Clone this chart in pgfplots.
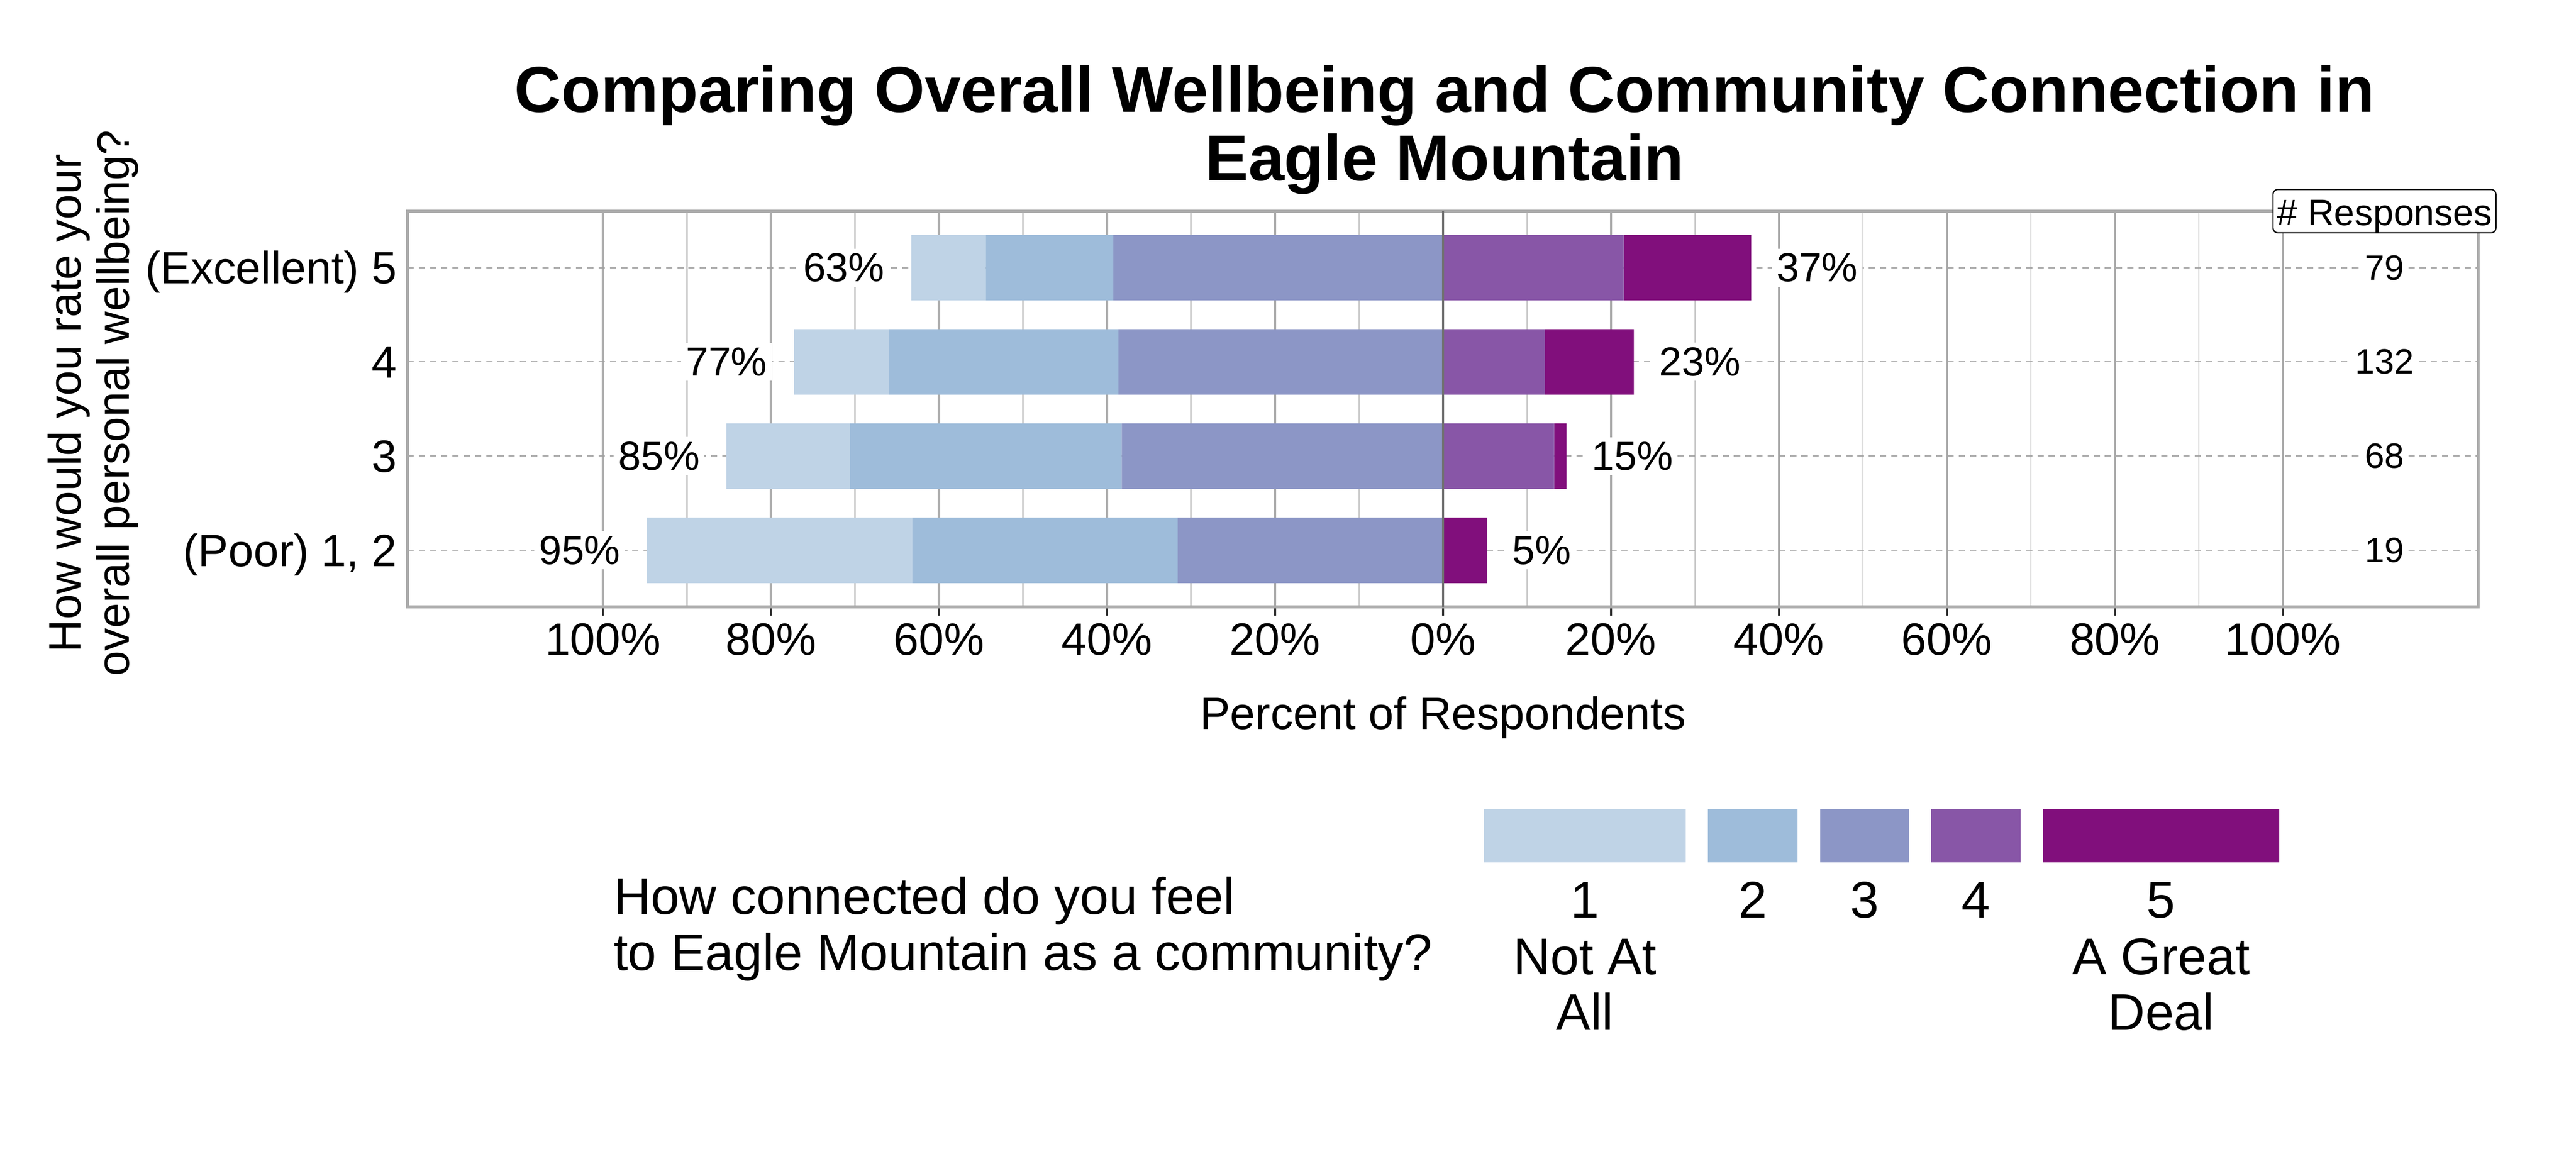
\documentclass[border=0pt]{standalone}
\usepackage{fontspec}
\setmainfont{Liberation Sans}
\usepackage{pgfplots}
\pgfplotsset{compat=1.18}
\usepackage{pgfplotstable}

\definecolor{c1}{HTML}{BFD3E6}
\definecolor{c2}{HTML}{9EBCDA}
\definecolor{c3}{HTML}{8C96C6}
\definecolor{c4}{HTML}{8856A7}
\definecolor{c5}{HTML}{810F7C}
\definecolor{framegray}{HTML}{ABABAB}
\definecolor{minorgray}{HTML}{C4C4C4}
\definecolor{dashgray}{HTML}{A0A0A0}
\definecolor{zerogray}{HTML}{707070}

% percent of respondents per connection level (1..5), rows bottom to top
\pgfplotstableread{
y  c1     c2     c3     c4     c5
0  31.58  31.58  31.58  0.00   5.26
1  14.71  32.35  38.24  13.24  1.47
2  11.36  27.27  38.64  12.12  10.61
3  8.86   15.19  39.24  21.52  15.19
}\wellbeing

\newcommand{\axfont}{\fontsize{29}{31}\selectfont}
\newcommand{\lgfont}{\fontsize{33}{36}\selectfont}
\tikzset{
  pct/.style={font=\fontsize{26}{30}\selectfont, fill=white, inner sep=3pt},
  cnt/.style={font=\fontsize{22.5}{26}\selectfont, fill=white, inner sep=3pt},
}

\begin{document}
\begin{tikzpicture}
\useasboundingbox (0,0) rectangle (1650pt,750pt);

\begin{axis}[
    at={(261pt,361.25pt)}, anchor=south west,
    scale only axis, width=1326.5pt, height=253.5pt,
    xmin=-123.28, xmax=123.28, ymin=-0.6, ymax=3.6,
    xbar stacked, bar width=42pt,
    clip=false,
    axis line style={framegray, line width=1.8pt},
    xtick={-100,-80,...,100},
    xticklabels={100\%,80\%,60\%,40\%,20\%,0\%,20\%,40\%,60\%,80\%,100\%},
    minor xtick={-90,-70,...,90},
    ytick={0,1,2,3},
    yticklabels={{(Poor) 1, 2},3,4,{(Excellent) 5}},
    xmajorgrids, xminorgrids, ymajorgrids,
    major x grid style={framegray, line width=1.4pt},
    minor x grid style={minorgray, line width=0.8pt},
    major y grid style={dashgray, line width=0.65pt, dash pattern=on 4pt off 3.2pt},
    tick align=outside, tick pos=left,
    major tick length=5.5pt, minor tick length=0pt,
    xtick style={black!80, line width=1.2pt},
    ytick style={draw=none},
    /pgf/number format/assume math mode=true,
    ticklabel style={font=\axfont},
    xticklabel style={anchor=base, inner sep=0pt, yshift=-25.5pt},
    yticklabel style={anchor=base east, inner sep=0pt, xshift=-1pt, yshift=-10.3pt},
]
\draw[zerogray, line width=1.4pt] (axis cs:0,-0.6) -- (axis cs:0,3.6);

% negative side (levels 3, 2, 1) stacks apart from the positive side (4, 5)
\addplot[fill=c3, draw=none] table[y=y, x expr=-\thisrow{c3}] {\wellbeing};
\addplot[fill=c2, draw=none] table[y=y, x expr=-\thisrow{c2}] {\wellbeing};
\addplot[fill=c1, draw=none] table[y=y, x expr=-\thisrow{c1}] {\wellbeing};
\addplot[fill=c4, draw=none] table[y=y, x=c4] {\wellbeing};
\addplot[fill=c5, draw=none] table[y=y, x=c5] {\wellbeing};

\node[pct, anchor=east, xshift=-14pt] at (axis cs:-63.29,3) {63\%};
\node[pct, anchor=east, xshift=-14pt] at (axis cs:-77.27,2) {77\%};
\node[pct, anchor=east, xshift=-14pt] at (axis cs:-85.29,1) {85\%};
\node[pct, anchor=east, xshift=-14pt] at (axis cs:-94.74,0) {95\%};
\node[pct, anchor=west, xshift=13pt] at (axis cs:36.71,3) {37\%};
\node[pct, anchor=west, xshift=13pt] at (axis cs:22.73,2) {23\%};
\node[pct, anchor=west, xshift=13pt] at (axis cs:14.71,1) {15\%};
\node[pct, anchor=west, xshift=13pt] at (axis cs:5.26,0) {5\%};

\node[cnt] at (axis cs:112.1,3) {79};
\node[cnt] at (axis cs:112.1,2) {132};
\node[cnt] at (axis cs:112.1,1) {68};
\node[cnt] at (axis cs:112.1,0) {19};
\node[draw=black, line width=0.8pt, rounded corners=3pt, fill=white,
      font=\fontsize{23.6}{26}\selectfont, inner xsep=2.5pt, inner ysep=1.5pt,
      text height=21.5pt, text depth=3.25pt] at (axis cs:112.1,3.6) {\# Responses};
\end{axis}

\begin{scope}[x=0.25pt, y=-0.25pt, shift={(0pt,750pt)}]
\node[anchor=base, font=\bfseries\fontsize{41.5}{44}\selectfont] at (3701,287)
  {Comparing Overall Wellbeing and Community Connection in};
\node[anchor=base, font=\bfseries\fontsize{41.5}{44}\selectfont] at (3701,463)
  {Eagle Mountain};
\node[rotate=90, anchor=base, font=\axfont] at (206,1033) {How would you rate your};
\node[rotate=90, anchor=base, font=\axfont] at (330,1033) {overall personal wellbeing?};
\node[anchor=base, font=\axfont] at (3697,1868) {Percent of Respondents};

% legend
\fill[c1] (3802,2073) rectangle (4319,2210);
\fill[c2] (4376,2073) rectangle (4606,2210);
\fill[c3] (4663,2073) rectangle (4890,2210);
\fill[c4] (4947,2073) rectangle (5177,2210);
\fill[c5] (5234,2073) rectangle (5840,2210);
\node[anchor=base west, font=\lgfont] at (1558,2343) {How connected do you feel};
\node[anchor=base west, font=\lgfont] at (1558,2486) {to Eagle Mountain as a community?};
\node[anchor=base, font=\lgfont] at (4061,2352) {1};
\node[anchor=base, font=\lgfont] at (4061,2497) {Not At};
\node[anchor=base, font=\lgfont] at (4061,2640) {All};
\node[anchor=base, font=\lgfont] at (4491,2352) {2};
\node[anchor=base, font=\lgfont] at (4777,2352) {3};
\node[anchor=base, font=\lgfont] at (5062,2352) {4};
\node[anchor=base, font=\lgfont] at (5537,2352) {5};
\node[anchor=base, font=\lgfont] at (5537,2497) {A Great};
\node[anchor=base, font=\lgfont] at (5537,2640) {Deal};
\end{scope}
\end{tikzpicture}
\end{document}
